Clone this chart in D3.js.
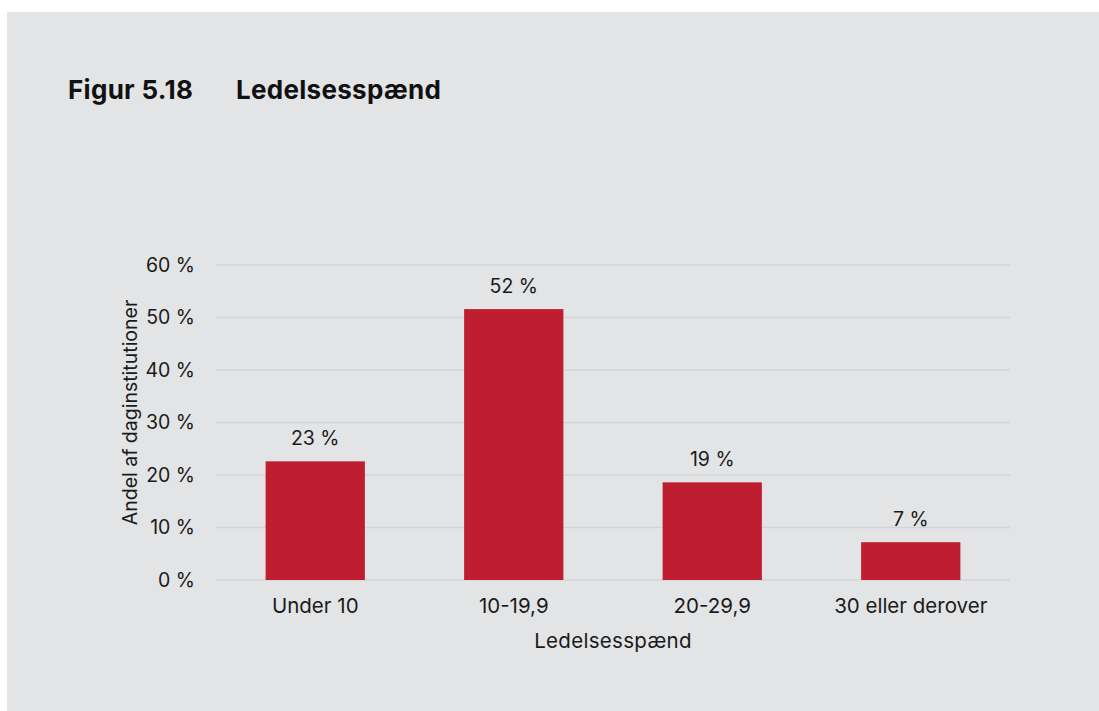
<!DOCTYPE html>
<html>
<head>
<meta charset="utf-8">
<script src="https://cdn.jsdelivr.net/npm/d3@7"></script>
<style>
  html, body { margin: 0; padding: 0; background: #ffffff; }
  svg { display: block; font-family: Inter, "Noto Sans", sans-serif; }
</style>
</head>
<body>
<svg id="chart" width="1099" height="711"></svg>
<script>
const categories = ["Under 10", "10-19,9", "20-29,9", "30 eller derover"];
const values = [22.6, 51.6, 18.6, 7.2];
const valueLabels = ["23 %", "52 %", "19 %", "7 %"];
const yTicks = [0, 10, 20, 30, 40, 50, 60];
const titleNumber = "Figur 5.18";
const titleText = "Ledelsesspænd";
const yAxisTitle = "Andel af daginstitutioner";
const xAxisTitle = "Ledelsesspænd";

const svg = d3.select("#chart");
const W = 1099, H = 711;
const FONT = "Inter, 'Noto Sans', sans-serif";

svg.append("rect").attr("x", 7).attr("y", 12).attr("width", W - 7).attr("height", H - 12)
  .attr("fill", "#e3e4e6");

svg.append("text").attr("x", 68).attr("y", 99)
  .attr("font-size", 26).attr("font-weight", 700).attr("fill", "#111")
  .attr("letter-spacing", 0.3)
  .text(titleNumber);
svg.append("text").attr("x", 236).attr("y", 99)
  .attr("font-size", 26).attr("font-weight", 700).attr("fill", "#111")
  .attr("letter-spacing", 0.3)
  .text(titleText);

const margin = { left: 216, right: 1010, top: 265, bottom: 580 };

const x = d3.scaleBand().domain(categories).range([margin.left, margin.right]).paddingInner(0.5).paddingOuter(0.25);
const y = d3.scaleLinear().domain([0, 60]).range([margin.bottom, margin.top]);

// gridlines
svg.append("g").selectAll("line").data(yTicks).join("line")
  .attr("x1", margin.left).attr("x2", margin.right)
  .attr("y1", d => y(d)).attr("y2", d => y(d))
  .attr("stroke", "#d3d4d6").attr("stroke-width", 1.5);

// y axis
const yAxis = d3.axisLeft(y).tickValues(yTicks).tickSize(0).tickPadding(21).tickFormat(d => d + " %");
const gy = svg.append("g").attr("transform", `translate(${margin.left},0)`).call(yAxis);
gy.select(".domain").remove();
gy.selectAll("text").attr("font-size", 19.5).attr("fill", "#1a1a1a").attr("font-family", FONT);

// x axis
const xAxis = d3.axisBottom(x).tickSize(0).tickPadding(18);
const gx = svg.append("g").attr("transform", `translate(0,${margin.bottom})`).call(xAxis);
gx.select(".domain").remove();
gx.selectAll("text").attr("font-size", 20.5).attr("fill", "#1a1a1a").attr("font-family", FONT);

// bars
svg.append("g").selectAll("rect").data(values).join("rect")
  .attr("x", (d, i) => x(categories[i]))
  .attr("width", x.bandwidth())
  .attr("y", d => y(d))
  .attr("height", d => y(0) - y(d))
  .attr("fill", "#be1e2f");

// value labels
svg.append("g").selectAll("text").data(values).join("text")
  .attr("x", (d, i) => x(categories[i]) + x.bandwidth() / 2)
  .attr("y", d => y(d) - 16)
  .attr("text-anchor", "middle")
  .attr("font-size", 19.5).attr("fill", "#1a1a1a")
  .text((d, i) => valueLabels[i]);

// axis titles
svg.append("text")
  .attr("transform", `translate(137,${(margin.top + margin.bottom) / 2 - 10}) rotate(-90)`)
  .attr("text-anchor", "middle").attr("font-size", 19.5).attr("fill", "#1a1a1a")
  .text(yAxisTitle);
svg.append("text")
  .attr("x", (margin.left + margin.right) / 2).attr("y", 648)
  .attr("text-anchor", "middle").attr("font-size", 20.5).attr("fill", "#1a1a1a")
  .attr("letter-spacing", 0.3)
  .text(xAxisTitle);
</script>
</body>
</html>
